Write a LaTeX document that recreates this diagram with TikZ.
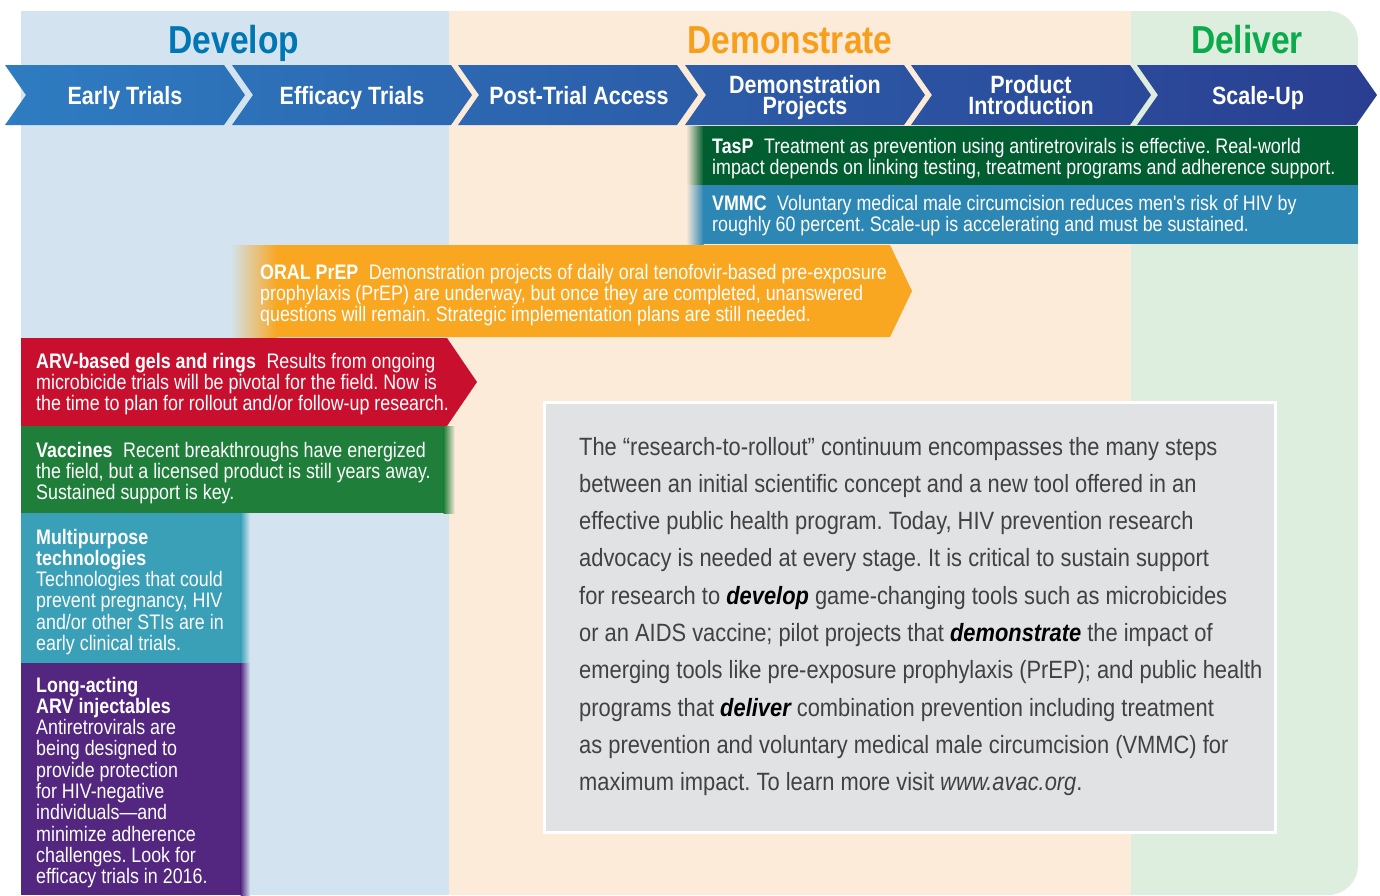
\documentclass[tikz,border=0pt]{standalone}
\usepackage{fontspec}
\setmainfont{Liberation Sans}
\newfontfamily\hfont[FakeStretch=0.86]{Liberation Sans}
\newfontfamily\bfont[FakeStretch=0.85]{Liberation Sans}
\newfontfamily\gfont[FakeStretch=0.875]{Liberation Sans}
\definecolor{devbg}{RGB}{211,227,240}
\definecolor{dembg}{RGB}{253,235,217}
\definecolor{delbg}{RGB}{221,238,223}
\definecolor{devtxt}{RGB}{0,118,178}
\definecolor{demtxt}{RGB}{247,158,27}
\definecolor{deltxt}{RGB}{11,170,75}
\definecolor{chevL}{RGB}{46,124,193}
\definecolor{chevR}{RGB}{42,62,145}
\definecolor{taspc}{RGB}{0,94,48}
\definecolor{vmmcc}{RGB}{44,135,180}
\definecolor{prepc}{RGB}{249,166,32}
\definecolor{arvc}{RGB}{200,16,46}
\definecolor{vaccc}{RGB}{31,127,58}
\definecolor{mptc}{RGB}{58,160,183}
\definecolor{lac}{RGB}{83,38,128}
\definecolor{boxc}{RGB}{225,226,228}
\definecolor{graytxt}{RGB}{65,64,66}
\newcommand\mlines[1]{\vtop{\lineskiplimit=-100pt\lineskip=0pt\halign{##\hfil\cr#1\crcr}}}
\newcommand\clines[1]{\vtop{\lineskiplimit=-100pt\lineskip=0pt\halign{\hfil##\hfil\cr#1\crcr}}}
\newcommand\bi[1]{{\bfseries\itshape\color{black}#1}}
\begin{document}
\frenchspacing
\begin{tikzpicture}[x=1pt,y=-1pt,
  body/.style={anchor=base west, inner sep=0pt, text=white, font=\frenchspacing\bfont\fontsize{21}{21.3}\selectfont},
  chevlab/.style={anchor=base, inner sep=0pt, text=white, font=\hfont\bfseries\fontsize{25}{21}\selectfont},
  phase/.style={anchor=base, inner sep=0pt, font=\hfont\bfseries\fontsize{39}{40}\selectfont},
  gtext/.style={anchor=base west, inner sep=0pt, text=graytxt, font=\frenchspacing\gfont\fontsize{25}{37.3}\selectfont}]
\useasboundingbox (0,0) rectangle (1380,895);
% background columns
\fill[white] (0,0) rectangle (1380,895);
\fill[devbg] (21,11) rectangle (449,895);
\fill[dembg] (449,11) rectangle (1131,895);
\fill[delbg, rounded corners=30] (1131,11) -- (1358,11) -- (1358,895) -- (1131,895);
% phase titles
\node[phase, text=devtxt] (develop) at (234,53) {Develop};
\node[phase, text=demtxt] (demonstrate) at (790,53) {Demonstrate};
\node[phase, text=deltxt] (deliver) at (1247,53) {Deliver};
% chevrons
\shade[left color=chevL, right color=chevR]
  (5,65) -- (224,65) -- (245,95) -- (224,125) -- (5,125) -- (26,95) -- cycle
  (232,65) -- (451,65) -- (472,95) -- (451,125) -- (232,125) -- (253,95) -- cycle
  (458,65) -- (677,65) -- (698,95) -- (677,125) -- (458,125) -- (479,95) -- cycle
  (685,65) -- (904,65) -- (925,95) -- (904,125) -- (685,125) -- (706,95) -- cycle
  (911,65) -- (1130,65) -- (1151,95) -- (1130,125) -- (911,125) -- (932,95) -- cycle
  (1137,65) -- (1356,65) -- (1377,95) -- (1356,125) -- (1137,125) -- (1158,95) -- cycle;
\node[chevlab] (c1) at (125,104) {Early Trials};
\node[chevlab] (c2) at (352,104) {Efficacy Trials};
\node[chevlab] (c3) at (579,104) {Post-Trial Access};
\node[chevlab] (c4) at (805,93) {\clines{Demonstration\cr Projects}};
\node[chevlab] (c5) at (1031,93) {\clines{Product\cr Introduction}};
\node[chevlab] (c6) at (1258,104) {Scale-Up};
% TasP and VMMC
\shade[left color=dembg, right color=taspc] (686,126) rectangle (703.5,185);
\fill[taspc] (703,126) rectangle (1358,185);
\shade[left color=dembg, right color=vmmcc] (686,185) rectangle (703.5,244);
\fill[vmmcc] (703,185) rectangle (1358,244);
\node[body] (tasp) at (712,153) {\mlines{{\bfseries TasP}\enspace Treatment as prevention using antiretrovirals is effective. Real-world\cr
impact depends on linking testing, treatment programs and adherence support.}};
\node[body] (vmmc) at (712,210) {\mlines{{\bfseries VMMC}\enspace Voluntary medical male circumcision reduces men's risk of HIV by\cr
roughly 60 percent. Scale-up is accelerating and must be sustained.}};
% Oral PrEP
\fill[prepc] (276,245) -- (890,245) -- (912,291) -- (890,337) -- (276,337) -- cycle;
\shade[left color=devbg, right color=prepc] (230,245) rectangle (277,337);
\node[body] (prep) at (260,279) {\mlines{{\bfseries ORAL PrEP}\enspace Demonstration projects of daily oral tenofovir-based pre-exposure\cr
prophylaxis (PrEP) are underway, but once they are completed, unanswered\cr
questions will remain. Strategic implementation plans are still needed.}};
% ARV gels and rings
\fill[arvc] (21,338) -- (447,338) -- (477,382) -- (447,426) -- (21,426) -- cycle;
\node[body] (arv) at (36,368) {\mlines{{\bfseries ARV-based gels and rings}\enspace Results from ongoing\cr
microbicide trials will be pivotal for the field. Now is\cr
the time to plan for rollout and/or follow-up research.}};
% Vaccines
\fill[vaccc] (21,426) rectangle (444,513);
\shade[left color=vaccc, right color=dembg] (443.5,426) rectangle (455,513);
\node[body] (vacc) at (36,457) {\mlines{{\bfseries Vaccines}\enspace Recent breakthroughs have energized\cr
the field, but a licensed product is still years away.\cr
Sustained support is key.}};
% Multipurpose
\fill[mptc] (21,513) rectangle (241,663);
\shade[left color=mptc, right color=devbg] (240.5,513) rectangle (250,663);
\node[body] (mpt) at (36,544) {\mlines{{\bfseries Multipurpose}\cr
{\bfseries technologies}\cr
Technologies that could\cr
prevent pregnancy, HIV\cr
and/or other STIs are in\cr
early clinical trials.}};
% Long-acting
\fill[lac] (21,663) rectangle (241,895);
\shade[left color=lac, right color=devbg] (240.5,663) rectangle (250,895);
\node[body] (la) at (36,692) {\mlines{{\bfseries Long-acting}\cr
{\bfseries ARV injectables}\cr
Antiretrovirals are\cr
being designed to\cr
provide protection\cr
for HIV-negative\cr
individuals—and\cr
minimize adherence\cr
challenges. Look for\cr
efficacy trials in 2016.}};
% gray box
\filldraw[fill=boxc, draw=white, line width=3pt] (544,402) rectangle (1275,832);
\node[gtext] (summary) at (579,455) {\mlines{The “research-to-rollout” continuum encompasses the many steps\cr
between an initial scientific concept and a new tool offered in an\cr
effective public health program. Today, HIV prevention research\cr
advocacy is needed at every stage. It is critical to sustain support\cr
for research to \bi{develop} game-changing tools such as microbicides\cr
or an AIDS vaccine; pilot projects that \bi{demonstrate} the impact of\cr
emerging tools like pre-exposure prophylaxis (PrEP); and public health\cr
programs that \bi{deliver} combination prevention including treatment\cr
as prevention and voluntary medical male circumcision (VMMC) for\cr
maximum impact. To learn more visit {\itshape www.avac.org}.}};
\end{tikzpicture}
\end{document}
